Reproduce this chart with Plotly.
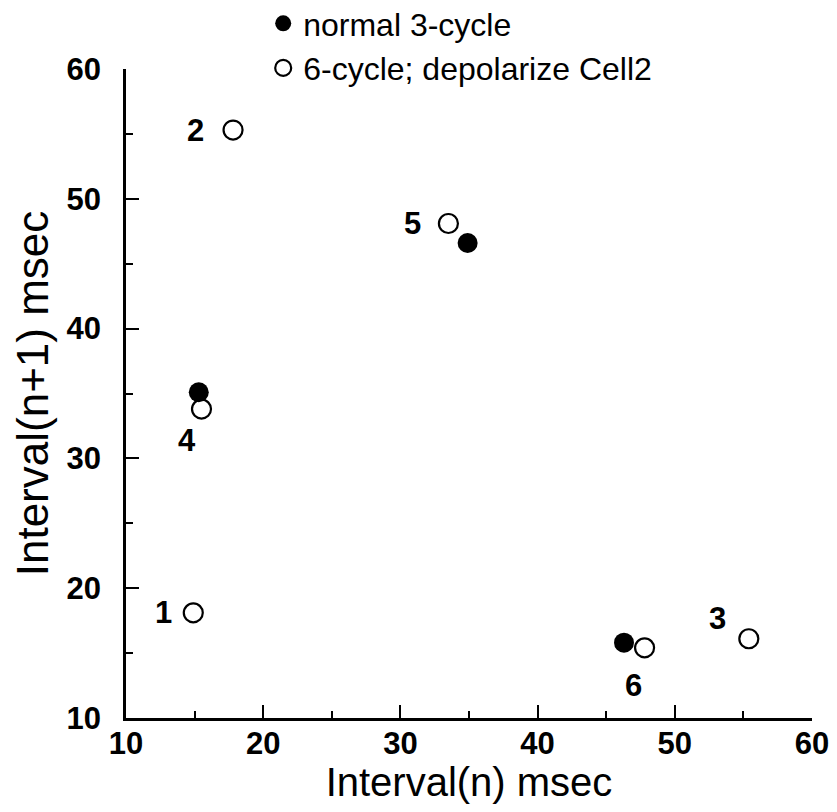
import plotly.graph_objects as go

# ---- data ----
normal_x = [15.3, 34.9, 46.3]
normal_y = [35.1, 46.6, 15.8]

depol_x = [14.9, 17.8, 55.4, 15.5, 33.5, 47.8]
depol_y = [18.1, 55.3, 16.1, 33.8, 48.1, 15.4]
depol_labels = ["1", "2", "3", "4", "5", "6"]

x_ticks = [10, 20, 30, 40, 50, 60]
y_ticks = [10, 20, 30, 40, 50, 60]

FONT = "Liberation Sans, Arial, Helvetica, sans-serif"

# label offsets (pixels) relative to each open circle
label_shift = [(-30, 0), (-38, 0), (-31, 20), (-15, -31), (-36, 0), (-11, -38)]

fig = go.Figure()
fig.add_trace(go.Scatter(
    x=normal_x, y=normal_y, mode="markers", name="normal 3-cycle",
    marker=dict(symbol="circle", size=20, color="black", line=dict(width=0)),
    cliponaxis=False,
))
fig.add_trace(go.Scatter(
    x=depol_x, y=depol_y, mode="markers", name="6-cycle; depolarize Cell2",
    marker=dict(symbol="circle-open", size=19, color="black", line=dict(width=2.2, color="black")),
    cliponaxis=False,
))

for (px, py, lab), (dx, dy) in zip(zip(depol_x, depol_y, depol_labels), label_shift):
    fig.add_annotation(x=px, y=py, text=lab, showarrow=False, xshift=dx, yshift=dy,
                       font=dict(family=FONT, size=31, color="black", weight="bold"))

axis_common = dict(
    range=[9.995, 60.005], showgrid=False, zeroline=False, showline=True,
    linecolor="black", linewidth=2.5, ticks="inside", ticklen=13, tickwidth=2,
    tickcolor="black", mirror=False, automargin=False, ticklabeloverflow="allow",
    tickfont=dict(family=FONT, size=31, color="black", weight="bold"),
    minor=dict(dtick=5, ticks="inside", ticklen=7, tickwidth=2, tickcolor="black"),
)

fig.update_xaxes(**axis_common, tickvals=x_ticks, ticktext=[str(v) for v in x_ticks],
                 ticklabelstandoff=-4,
                 title=dict(text="Interval(n) msec", standoff=6,
                            font=dict(family=FONT, size=40, color="black")))
fig.update_yaxes(**axis_common, tickvals=y_ticks, ticktext=[str(v) for v in y_ticks],
                 ticklabelstandoff=16,
                 title=dict(text="Interval(n+1) msec", standoff=12,
                            font=dict(family=FONT, size=44, color="black")))

fig.update_layout(
    width=821, height=796,
    margin=dict(l=118, r=17, t=61, b=86, autoexpand=False),
    paper_bgcolor="white", plot_bgcolor="white",
    showlegend=True,
    legend=dict(x=0.2, y=1.1125, xanchor="left", yanchor="top",
                font=dict(family=FONT, size=32, color="black"),
                bgcolor="rgba(0,0,0,0)", borderwidth=0, tracegroupgap=0),
)

fig.write_html("out.html")
